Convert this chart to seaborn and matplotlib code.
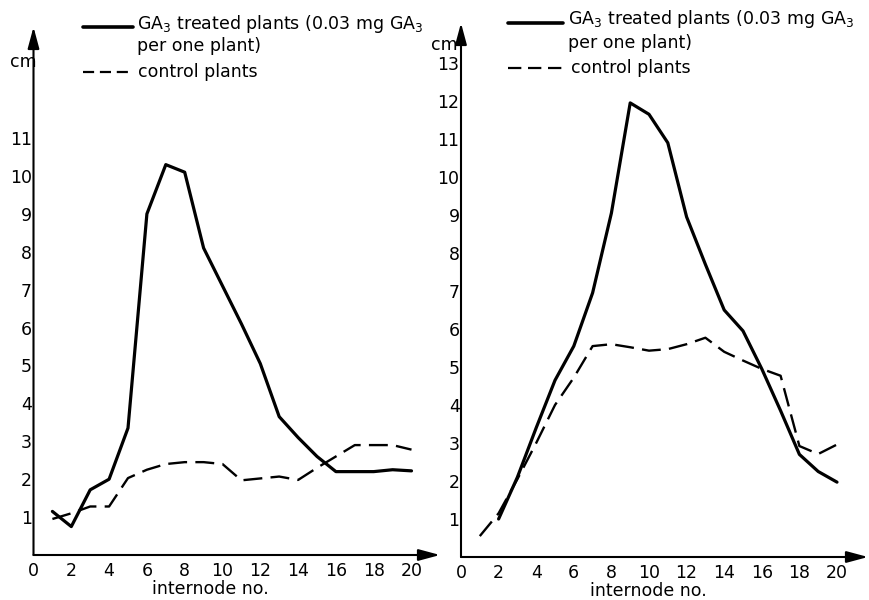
import matplotlib
matplotlib.use("Agg")
import matplotlib.pyplot as plt
import seaborn as sns
import pandas as pd
from matplotlib.lines import Line2D

# ---------------- data ----------------
internode_left = list(range(1, 21))
ga3_left = [1.15, 0.75, 1.72, 2.0, 3.35, 9.0, 10.3, 10.1, 8.1, 7.1,
            6.1, 5.05, 3.65, 3.1, 2.6, 2.2, 2.2, 2.2, 2.25, 2.22]
ctrl_left = [0.95, 1.1, 1.28, 1.28, 2.03, 2.25, 2.4, 2.45, 2.45, 2.4,
             1.97, 2.02, 2.07, 1.98, 2.3, 2.6, 2.9, 2.9, 2.9, 2.78]

internode_right_ga3 = list(range(2, 21))
ga3_right = [1.0, 2.1, 3.4, 4.65, 5.55, 6.95, 9.05, 11.95, 11.65, 10.9,
             8.95, 7.7, 6.5, 5.95, 4.95, 3.85, 2.7, 2.25, 1.97]
internode_right_ctrl = list(range(1, 21))
ctrl_right = [0.55, 1.15, 2.05, 3.0, 4.0, 4.72, 5.55, 5.6, 5.52, 5.43,
              5.47, 5.6, 5.77, 5.4, 5.17, 4.95, 4.77, 2.92, 2.71, 2.96]

xtick_labels = [str(v) for v in range(0, 21, 2)]
ytick_left = list(range(1, 12))
ytick_right = list(range(1, 14))

legend_ga3_1 = "GA$_3$ treated plants (0.03 mg GA$_3$"
legend_ga3_2 = "per one plant)"
legend_ctrl = "control plants"
xlabel = "internode no."
ylabel = "cm"

# ---------------- style ----------------
sns.set_style("white")
plt.rcParams['font.family'] = ['DejaVu Sans']
plt.rcParams['mathtext.fontset'] = 'dejavusans'

W, H = 870, 600
fig = plt.figure(figsize=(8.7, 6), dpi=100)
FS = 12.5


def make_axes(x0, x1, ytop, ybot, ux, uy, yticks):
    ax = fig.add_axes([x0 / W, 1 - ybot / H, (x1 - x0) / W, (ybot - ytop) / H])
    ax.patch.set_alpha(0)
    ax.set_xlim(0, (x1 - x0) / ux)
    ax.set_ylim(0, (ybot - ytop) / uy)
    for s in ax.spines.values():
        s.set_visible(False)
    ax.set_xticks(range(0, 21, 2))
    ax.set_xticklabels(xtick_labels)
    ax.set_xticks(range(1, 21, 2), minor=True)
    ax.tick_params(axis='x', which='both', direction='in', length=8, width=1.2,
                   pad=5, labelsize=FS, colors='black')
    ax.set_yticks(yticks)
    ax.set_yticklabels([str(v) for v in yticks])
    ax.tick_params(axis='y', direction='in', length=5, width=1.0, pad=1,
                   labelsize=FS, colors='black')
    ap = dict(arrowstyle='-|>,head_length=1.3,head_width=0.35', color='black',
              lw=1.5, shrinkA=0, shrinkB=0)
    ax.annotate('', xy=(1, 0), xytext=(0, 0), xycoords='axes fraction',
                arrowprops=ap, annotation_clip=False)
    ax.annotate('', xy=(0, 1), xytext=(0, 0), xycoords='axes fraction',
                arrowprops=ap, annotation_clip=False)
    return ax


axL = make_axes(33.5, 440, 27, 555, 18.9, 37.9, ytick_left)
axR = make_axes(461, 868, 23, 557, 18.8, 38.0, ytick_right)

solid_kw = dict(color='black', lw=2.3, legend=False)
dash_kw = dict(color='black', lw=1.7, linestyle=(0, (8, 3.5)), legend=False)

sns.lineplot(x=internode_left, y=ga3_left, ax=axL, **solid_kw)
sns.lineplot(x=internode_left, y=ctrl_left, ax=axL, **dash_kw)
sns.lineplot(x=internode_right_ga3, y=ga3_right, ax=axR, **solid_kw)
sns.lineplot(x=internode_right_ctrl, y=ctrl_right, ax=axR, **dash_kw)

for ax in (axL, axR):
    ax.set_xlabel('')
    ax.set_ylabel('')


def px_text(x, y, s, ha='left', va='center', size=FS):
    fig.text(x / W, 1 - y / H, s, ha=ha, va=va, fontsize=size, color='black')


def px_line(x0, x1, y, lw, ls):
    fig.add_artist(Line2D([x0 / W, x1 / W], [1 - y / H, 1 - y / H],
                          color='black', lw=lw, linestyle=ls,
                          transform=fig.transFigure))


# legends
px_line(83, 133, 27, 2.6, '-')
px_text(137, 24, legend_ga3_1)
px_text(137, 46, legend_ga3_2)
px_line(83, 133, 72, 1.6, (0, (5, 2.6)))
px_text(138, 72, legend_ctrl)

px_line(508, 563, 23, 2.6, '-')
px_text(568, 19, legend_ga3_1)
px_text(568, 43, legend_ga3_2)
px_line(508, 563, 68, 1.6, (0, (6, 3)))
px_text(571, 68, legend_ctrl)

# axis labels
px_text(37, 62, ylabel, ha='right')
px_text(458, 45, ylabel, ha='right')
px_text(210, 589, xlabel, ha='center')
px_text(648, 591, xlabel, ha='center')

fig.savefig("out.png", dpi=100)
